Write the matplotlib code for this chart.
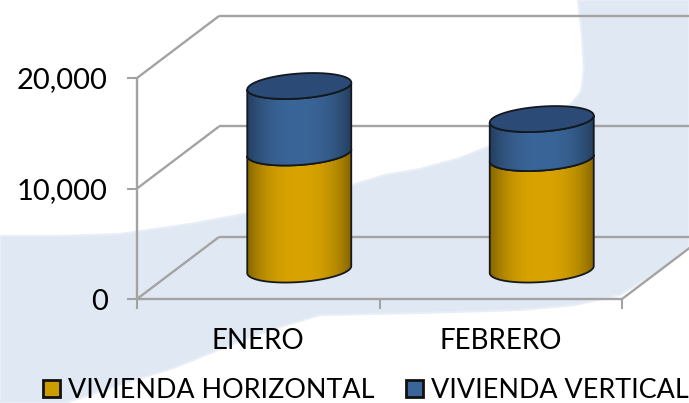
import numpy as np
import matplotlib
matplotlib.use('Agg')
import matplotlib.pyplot as plt
from matplotlib.patches import Polygon, Patch

months = ['ENERO', 'FEBRERO']
horizontal = [10590, 10090]
vertical = [6020, 3530]
series_names = ['VIVIENDA HORIZONTAL', 'VIVIENDA VERTICAL']
y_ticks = [0, 10000, 20000]

W, H = 689, 403
GRID = '#a3a3a3'
GOLD = '#d9a400'
BLUE = '#3a6598'
TOP_BLUE = '#2b4a75'

# depth of the fake 3d box, in data units
DEPTH_X = 82 / 242.5
DEPTH_Y = 62 / 110.5 * 10000
BAR_W = 52 / 242.5
ELL_B = 12.5 / 110.5 * 10000
ELL_K = 3.5 / 110.5 * 10000

plt.rcParams['font.family'] = ['Lato', 'DejaVu Sans']
fig = plt.figure(figsize=(W / 100, H / 100), dpi=100, facecolor='white')

# watermark behind the chart, in pixels
bg = fig.add_axes([0, 0, 1, 1], zorder=0)
bg.set_xlim(0, W)
bg.set_ylim(H, 0)
bg.axis('off')
swoosh = [(0, 236), (60, 236), (120, 234), (190, 224), (250, 213), (300, 201), (352, 185),
          (385, 175), (420, 169), (460, 158), (500, 142), (545, 120), (570, 105), (581, 92),
          (584, 70), (582, 35), (578, 0), (689, 0), (689, 247), (660, 270), (620, 295),
          (575, 305), (520, 310), (420, 313), (320, 315), (270, 330), (230, 345), (176, 367),
          (110, 388), (65, 403), (0, 403)]
bg.add_patch(Polygon(swoosh, closed=True, fc='#e0e9f3', ec='#e8eef6', lw=1.5))

ax = fig.add_axes([137 / W, 1 - 299 / H, 485 / W, 221 / H], zorder=1)
ax.set_xlim(0, 2)
ax.set_ylim(0, 20000)
ax.patch.set_alpha(0)
for s in ax.spines.values():
    s.set_visible(False)


def box_line(xs, ys, **kw):
    ax.plot(xs, ys, color=GRID, lw=1.7, clip_on=False, solid_capstyle='butt', **kw)


# back wall, side wall and floor
for v in y_ticks:
    box_line([0, DEPTH_X], [v, v + DEPTH_Y])
    box_line([DEPTH_X, 2 + DEPTH_X], [v + DEPTH_Y, v + DEPTH_Y])
box_line([2, 2 + DEPTH_X], [0, DEPTH_Y])
box_line([0, 2], [0, 0])
box_line([0, 0], [0, 20000])

ax.set_xticks([0, 1, 2])
ax.set_xticklabels([])
ax.set_xticks([0.5, 1.5], minor=True)
ax.set_xticklabels(months, minor=True, fontsize=20)
ax.tick_params(axis='x', which='major', length=7, width=1.5, color=GRID)
ax.tick_params(axis='x', which='minor', length=0, pad=21)
ax.set_yticks(y_ticks)
ax.set_yticklabels([f'{v:,}' for v in y_ticks], fontsize=21)
ax.tick_params(axis='y', length=7, width=1.5, color=GRID, pad=14)


def edge(cx, cy, a, b):
    # part of the tilted ellipse between angles a and b
    tt = np.linspace(a, b, 80)
    return np.column_stack([cx + BAR_W * np.cos(tt),
                            cy + ELL_B * np.sin(tt) + ELL_K * np.cos(tt)])


def shaded(color):
    c = np.array(matplotlib.colors.to_rgb(color))
    s = np.linspace(-1, 1, 256)
    k = (0.62 + 0.38 * (1 - np.abs(s) ** 2.4))[None, :, None]
    return np.clip(c * k, 0, 1)


def segment(cx, y0, y1, color, z):
    pts = np.vstack([edge(cx, y0, np.pi, 2 * np.pi), edge(cx, y1, 0, -np.pi)])
    ax.add_patch(Polygon(pts, closed=True, fc='none', ec='#14181f', lw=1.3, zorder=z + 1, clip_on=False))
    im = ax.imshow(shaded(color), extent=[cx - BAR_W, cx + BAR_W, y0 - 2000, y1 + 2000],
                   aspect='auto', zorder=z, clip_on=True)
    im.set_clip_path(Polygon(pts, closed=True, transform=ax.transData))


for i in range(len(months)):
    cx = i + 0.5 + DEPTH_X / 2
    base = 0.475 * DEPTH_Y
    mid = base + horizontal[i]
    top = mid + vertical[i]
    segment(cx, base, mid, GOLD, 3)
    segment(cx, mid, top, BLUE, 5)
    ax.add_patch(Polygon(edge(cx, top, 0, 2 * np.pi), closed=True, fc=TOP_BLUE,
                         ec='#14181f', lw=1.3, zorder=8, clip_on=False))

ax.set_xlim(0, 2)
ax.set_ylim(0, 20000)

handles = [Patch(fc='#cc9c00', ec='#111111', lw=2), Patch(fc=BLUE, ec='#111111', lw=2)]
fig.legend(handles, series_names, loc='lower left', bbox_to_anchor=(43 / W, 0), ncol=2,
           frameon=False, fontsize=19.4, handlelength=0.64, handleheight=0.64,
           handletextpad=0.3, columnspacing=1.15, borderpad=0, borderaxespad=0)

fig.savefig('out.png', dpi=100)
